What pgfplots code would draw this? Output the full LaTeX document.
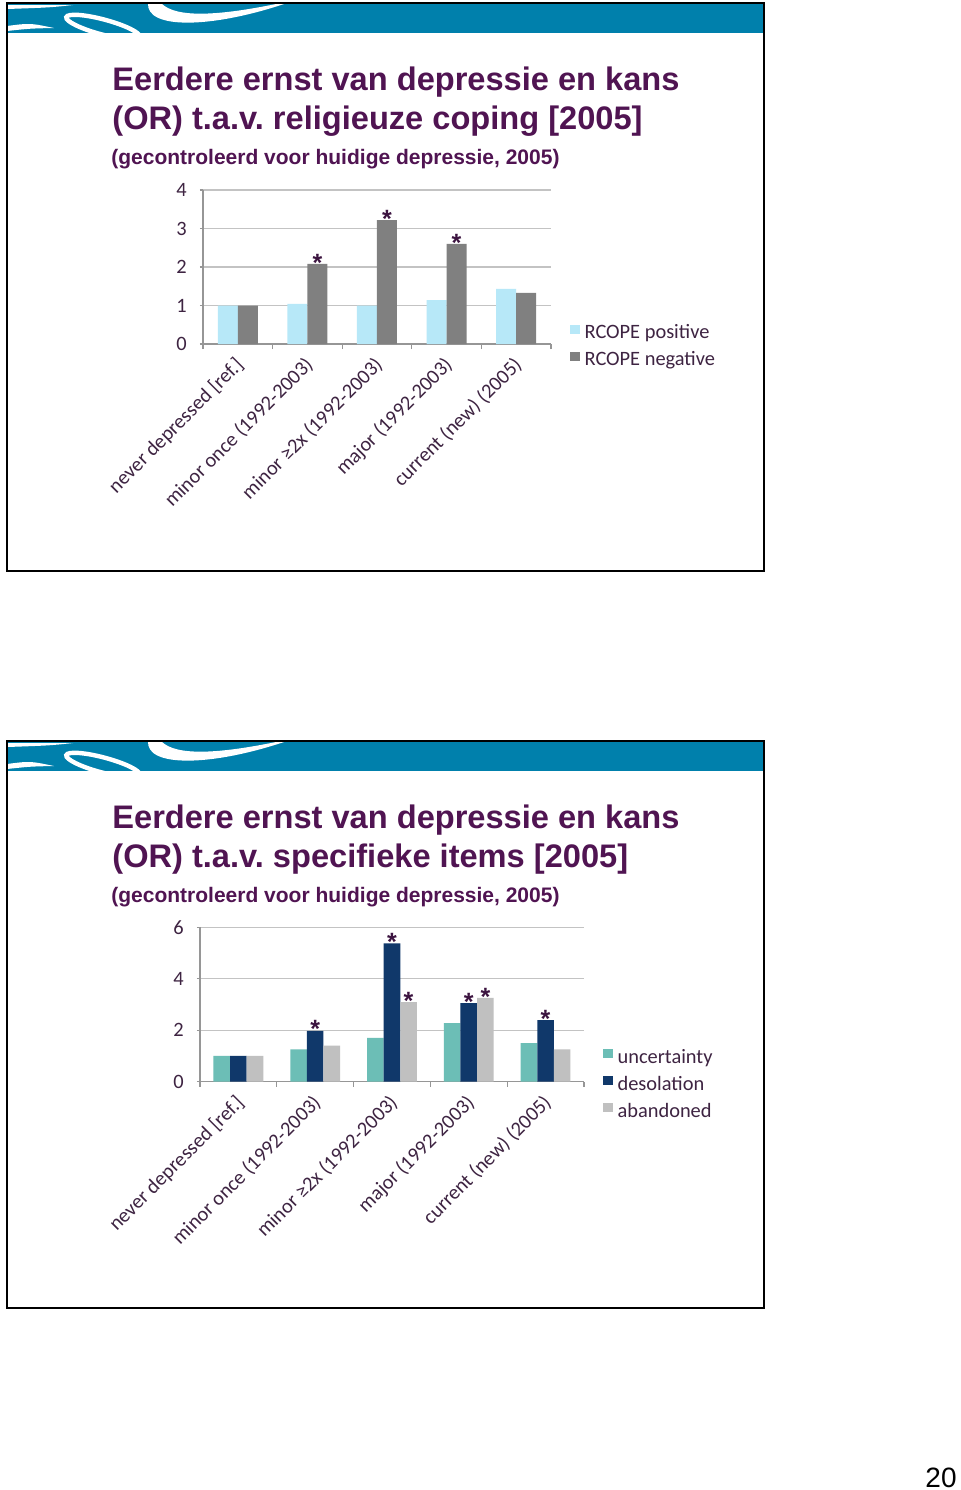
\documentclass[border=0pt]{standalone}
\usepackage{fontspec}
\setmainfont{Liberation Sans}
\newfontfamily\calib{Carlito}
\usepackage{pgfplots}
\usepackage{pgfplotstable}
\pgfplotsset{compat=1.18}
\frenchspacing

\definecolor{banner}{RGB}{0,128,172}
\definecolor{titlec}{RGB}{80,20,82}
\definecolor{labc}{RGB}{62,36,66}
\definecolor{starc}{RGB}{60,20,64}
\definecolor{gridc}{RGB}{195,195,195}
\definecolor{axisc}{RGB}{150,150,150}
\definecolor{rpos}{RGB}{183,232,248}
\definecolor{rneg}{RGB}{128,128,128}
\definecolor{unc}{RGB}{108,190,182}
\definecolor{des}{RGB}{16,56,106}
\definecolor{aban}{RGB}{192,192,192}

% odds ratios, chart 1 (RCOPE)
\pgfplotstableread{
x pos  neg  spos sneg
0 1.00 1.00 {}   {}
1 1.04 2.08 {}   *
2 1.00 3.22 {}   *
3 1.14 2.60 {}   *
4 1.43 1.33 {}   {}
}\tabA

% odds ratios, chart 2 (specific items)
\pgfplotstableread{
x unc  des  aban sdes saban
0 1.00 1.00 1.00 {}   {}
1 1.26 1.98 1.40 *    {}
2 1.70 5.38 3.09 *    *
3 2.28 3.05 3.26 *    *
4 1.50 2.39 1.26 *    {}
}\tabB

\pgfplotsset{
  sqleg/.style={legend image code/.code={\fill[##1] (0pt,0pt) rectangle (4.6pt,4.6pt);}},
  chart/.style={
    scale only axis, anchor=south west,
    ybar=0pt,
    xmin=-0.5, xmax=4.5, ymin=0,
    xtick={0,...,4},
    xticklabels={{never depressed [ref.]},{minor once (1992-2003)},{minor ≥2x (1992-2003)},{major (1992-2003)},{current (new) (2005)}},
    minor xtick={-0.5,0.5,...,4.5},
    axis x line*=bottom, axis y line*=left,
    ymajorgrids, grid style={draw=gridc, line width=0.6pt},
    axis line style={draw=axisc, line width=0.6pt},
    major x tick style={draw=none},
    minor x tick style={draw=axisc, line width=0.6pt},
    y tick style={draw=axisc, line width=0.6pt},
    tick align=outside, major tick length=1.6pt, minor tick length=2.6pt,
    /pgf/number format/assume math mode=true,
    ticklabel style={font=\calib\fontsize{10.2}{12}\selectfont, text=labc},
    yticklabel style={xshift=-3pt},
    xticklabel style={rotate=45, anchor=north east, inner sep=0pt, xshift=-4.2pt, yshift=-1.4pt},
    legend cell align=left,
    legend style={at={(1,0)}, anchor=west, xshift=9.5pt, yshift=-1.6pt, draw=none, fill=none,
      font=\calib\fontsize{10.2}{12}\selectfont, text=labc,
      column sep=2.5pt, row sep=4.4pt, inner sep=0pt,
      nodes={inner sep=0pt, text height=7pt, text depth=2pt}},
    every axis plot post/.append style={sqleg},
  },
  stars/.style={
    nodes near coords, point meta=explicit symbolic,
    every node near coord/.append style={font=\fontsize{12.5}{12}\selectfont\bfseries,
      text=starc, inner sep=0pt, anchor=south, yshift=-3.8pt},
  },
}

\newcommand{\deco}{%
  \begin{scope}
    \clip (7,3) rectangle (764,33);
    \fill[banner] (7,3) rectangle (764,33);
    \fill[white] (7,5) -- (73,5) .. controls (50,7.5) .. (7,9) -- cycle;
    \fill[white] (148,3) .. controls (146,30) and (212,28) .. (284,4) -- (276,4)
      .. controls (222,15) and (176,19) .. (161,3) -- cycle;
    \draw[white, line width=2.2pt] (103,27) ellipse [x radius=38, y radius=7.5, rotate=-15];
    \fill[white] (7,26) .. controls (30,23) .. (54,28) .. controls (30,28.5) .. (7,31) -- cycle;
  \end{scope}
}

\begin{document}
\begin{tikzpicture}
\begin{scope}[x=0.5pt, y=-0.5pt]
  \path[use as bounding box] (0,0) rectangle (960,1490);
  \fill[white] (0,0) rectangle (960,1490);
  % slide 1
  \deco
  \draw[line width=1pt] (7,3) rectangle (764,571);
  \node[anchor=base west, inner sep=0pt, font=\fontsize{16.3}{19.5}\selectfont\bfseries, text=titlec]
    at (112,90) {Eerdere ernst van depressie en kans};
  \node[anchor=base west, inner sep=0pt, font=\fontsize{16.3}{19.5}\selectfont\bfseries, text=titlec]
    at (112,129) {(OR) t.a.v. religieuze coping [2005]};
  \node[anchor=base west, inner sep=0pt, font=\fontsize{10.5}{12}\selectfont\bfseries, text=titlec]
    at (111,164) {(gecontroleerd voor huidige depressie, 2005)};
  % slide 2
  \begin{scope}[shift={(0,738)}]
    \deco
    \draw[line width=1pt] (7,3) rectangle (764,570);
    \node[anchor=base west, inner sep=0pt, font=\fontsize{16.3}{19.5}\selectfont\bfseries, text=titlec]
      at (112,90) {Eerdere ernst van depressie en kans};
    \node[anchor=base west, inner sep=0pt, font=\fontsize{16.3}{19.5}\selectfont\bfseries, text=titlec]
      at (112,129) {(OR) t.a.v. specifieke items [2005]};
    \node[anchor=base west, inner sep=0pt, font=\fontsize{10.5}{12}\selectfont\bfseries, text=titlec]
      at (111,164) {(gecontroleerd voor huidige depressie, 2005)};
  \end{scope}
  \node[anchor=base east, inner sep=0pt, font=\fontsize{14}{14}\selectfont] at (957,1487) {20};
  \coordinate (o1) at (203,344);
  \coordinate (o2) at (200,1081.7);
\end{scope}

\begin{axis}[chart, at={(o1)}, width=174pt, height=77pt,
    ymax=4, ytick={0,1,2,3,4}, bar width=10pt]
  \addplot[fill=rpos, draw=none] table[x=x, y=pos] {\tabA};
  \addplot[fill=rneg, draw=none, stars] table[x=x, y=neg, meta=sneg] {\tabA};
  \legend{RCOPE positive, RCOPE negative}
\end{axis}

\begin{axis}[chart, at={(o2)}, width=192pt, height=77.2pt,
    ymax=6, ytick={0,2,4,6}, bar width=8.3pt]
  \addplot[fill=unc, draw=none] table[x=x, y=unc] {\tabB};
  \addplot[fill=des, draw=none, stars] table[x=x, y=des, meta=sdes] {\tabB};
  \addplot[fill=aban, draw=none, stars] table[x=x, y=aban, meta=saban] {\tabB};
  \legend{uncertainty, desolation, abandoned}
\end{axis}
\end{tikzpicture}
\end{document}
